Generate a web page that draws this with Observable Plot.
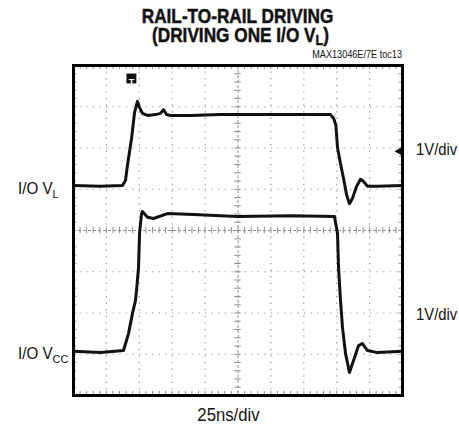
<!DOCTYPE html>
<html>
<head>
<meta charset="utf-8">
<script src="https://cdn.jsdelivr.net/npm/d3@7"></script>
<script src="https://cdn.jsdelivr.net/npm/@observablehq/plot@0.6"></script>
<style>
  html, body { margin: 0; padding: 0; background: #fff; }
  #chart svg { display: block; }
</style>
</head>
<body>
<div id="chart"></div>
<script>
// ---- data (time in ns, amplitude in divisions; 25ns/div, 1V/div) ----
const vlTime = [0, 20.5, 37.2, 39.5, 41.0, 44.1, 46.4, 48.6, 50.2, 52.4, 56.2, 62.3, 66.1, 68.4, 70.7, 73.7, 88.9, 111.7, 142.1, 172.5, 195.3, 197.6, 199.4, 200.6, 202.9, 205.2, 207.5, 209.7, 212.0, 215.1, 218.1, 220.4, 223.4, 231.0, 250];
const vlVolt = [1.09, 1.07, 1.09, 1.21, 1.58, 2.23, 2.86, 3.13, 2.98, 2.84, 2.79, 2.81, 2.84, 2.93, 2.81, 2.79, 2.79, 2.81, 2.81, 2.81, 2.81, 2.72, 2.55, 2.01, 1.62, 1.26, 0.87, 0.65, 0.78, 1.07, 1.24, 1.19, 1.07, 1.07, 1.09];
const vccTime = [0, 20.5, 38.0, 41.8, 44.8, 47.1, 47.9, 49.4, 50.2, 51.7, 52.4, 56.2, 60.8, 71.4, 91.2, 124.6, 164.9, 198.3, 200.6, 201.4, 202.9, 204.4, 206.7, 209.7, 212.8, 216.6, 219.6, 223.4, 231.0, 250];
const vccVolt = [-2.93, -2.96, -2.91, -2.50, -2.01, -1.70, -1.45, -0.90, -0.07, 0.41, 0.46, 0.32, 0.29, 0.41, 0.39, 0.34, 0.36, 0.34, -0.07, -0.90, -1.70, -2.35, -2.98, -3.44, -3.15, -2.79, -2.74, -2.91, -2.96, -2.93];

const xDivisions = [0, 25, 50, 75, 100, 125, 150, 175, 200, 225, 250];
const yDivisions = [-4, -3, -2, -1, 0, 1, 2, 3, 4];
const triggerTime = [44];
const refLevel = [1.92];

const titleLines = ["RAIL-TO-RAIL DRIVING", "(DRIVING ONE I/O V", "L", ")"];
const noteText = "MAX13046E/7E toc13";
const leftLabels = [{main: "I/O V", sub: "L", level: 0.88}, {main: "I/O V", sub: "CC", level: -3.12}];
const rightLabels = [{text: "1V/div", level: 1.83}, {text: "1V/div", level: -2.17}];
const xLabel = "25ns/div";

// ---- derived tables ----
const vl = vlTime.map((t, i) => ({t, v: vlVolt[i]}));
const vcc = vccTime.map((t, i) => ({t, v: vccVolt[i]}));
const minorX = d3.range(0, 250.001, 5);
const minorY = d3.range(-4, 4.001, 0.2);
const innerX = xDivisions.filter(d => d > 0 && d < 250 && d !== 125);
const innerY = yDivisions.filter(d => d > -4 && d < 4 && d !== 0);

const gridColor = "#909090";

const plot = Plot.plot({
  width: 459,
  height: 427,
  marginLeft: 73,
  marginRight: 57,
  marginTop: 65,
  marginBottom: 32,
  x: {domain: [0, 250], axis: null},
  y: {domain: [-4, 4], axis: null},
  marks: [
    Plot.ruleX(innerX, {stroke: gridColor, strokeWidth: 1.2, strokeDasharray: "1.2,5.4"}),
    Plot.ruleY(innerY, {stroke: gridColor, strokeWidth: 1.2, strokeDasharray: "1.2,5.4"}),
    Plot.ruleX([125], {stroke: gridColor, strokeWidth: 1, strokeDasharray: "3,2"}),
    Plot.ruleY([0], {stroke: gridColor, strokeWidth: 1, strokeDasharray: "3,2"}),
    Plot.ruleX(minorX, {y1: -0.08, y2: 0.08, stroke: gridColor, strokeWidth: 1}),
    Plot.ruleY(minorY, {x1: 122.5, x2: 127.5, stroke: gridColor, strokeWidth: 1}),
    Plot.ruleX(minorX, {y1: -4, y2: -3.9, stroke: gridColor, strokeWidth: 1}),
    Plot.ruleX(minorX, {y1: 3.9, y2: 4, stroke: gridColor, strokeWidth: 1}),
    Plot.ruleY(minorY, {x1: 0, x2: 2.5, stroke: gridColor, strokeWidth: 1}),
    Plot.ruleY(minorY, {x1: 247.5, x2: 250, stroke: gridColor, strokeWidth: 1}),
    Plot.line(vl, {x: "t", y: "v", stroke: "#111", strokeWidth: 3, strokeLinejoin: "round"}),
    Plot.line(vcc, {x: "t", y: "v", stroke: "#111", strokeWidth: 3, strokeLinejoin: "round"}),
    Plot.dot(triggerTime, {x: d => d, frameAnchor: "top", dy: 13, symbol: "square", r: 5.6, fill: "#111"}),
    Plot.text(triggerTime, {x: d => d, frameAnchor: "top", dy: 13.5, text: () => "T", fill: "#fff", fontSize: 9, fontWeight: "bold", fontFamily: "Liberation Sans"}),
    Plot.dot(refLevel, {y: d => d, frameAnchor: "right", dx: -3, symbol: "triangle", rotate: -90, r: 3.2, fill: "#111"}),
    Plot.frame({stroke: "#000", strokeWidth: 3})
  ]
});

document.getElementById("chart").appendChild(plot);

// ---- text labels anchored to the plot scales ----
const sx = plot.scale("x");
const sy = plot.scale("y");
const svg = d3.select(plot);
const xs = v => sx.apply(v);
const ys = v => sy.apply(v);
const fontReg = "'Liberation Sans', Arial, sans-serif";
const frameL = xs(0), frameR = xs(250), frameT = ys(4), frameB = ys(-4), frameCX = xs(125);

const tg = svg.append("g").attr("fill", "#111").attr("text-anchor", "start").attr("font-family", fontReg);

// condensed text: a group translated to the anchor point and squeezed horizontally
function condensed(x, y, k) {
  return tg.append("g").attr("transform", `translate(${x},${y}) scale(${k},1)`);
}

const g1 = condensed(frameCX, 23, 0.84);
g1.append("text").attr("text-anchor", "middle").attr("font-size", 20.5).attr("font-weight", "bold")
  .attr("stroke", "#111").attr("stroke-width", 0.5).text(titleLines[0]);
const g2 = condensed(frameCX + 3, 42, 0.84);
const t2 = g2.append("text").attr("text-anchor", "middle").attr("font-size", 20.5).attr("font-weight", "bold")
  .attr("stroke", "#111").attr("stroke-width", 0.5);
t2.append("tspan").text(titleLines[1]);
t2.append("tspan").attr("dy", 3).attr("font-size", 15).text(titleLines[2]);
t2.append("tspan").attr("dy", -3).text(titleLines[3]);

const g3 = condensed(frameR, frameT - 7, 0.87);
g3.append("text").attr("text-anchor", "end").attr("font-size", 10.5).text(noteText);

for (const l of leftLabels) {
  const g = condensed(18, ys(l.level), 0.95);
  const t = g.append("text").attr("font-size", 16).attr("text-anchor", "start");
  t.append("tspan").text(l.main);
  t.append("tspan").attr("dy", 4).attr("font-size", 11.5).text(l.sub);
}
for (const l of rightLabels) {
  const g = condensed(frameR + 14, ys(l.level), 0.9);
  g.append("text").attr("font-size", 16.5).attr("text-anchor", "start").text(l.text);
}
const g4 = condensed(frameCX - 9, frameB + 26, 0.93);
g4.append("text").attr("text-anchor", "middle").attr("font-size", 18).text(xLabel);
</script>
</body>
</html>
